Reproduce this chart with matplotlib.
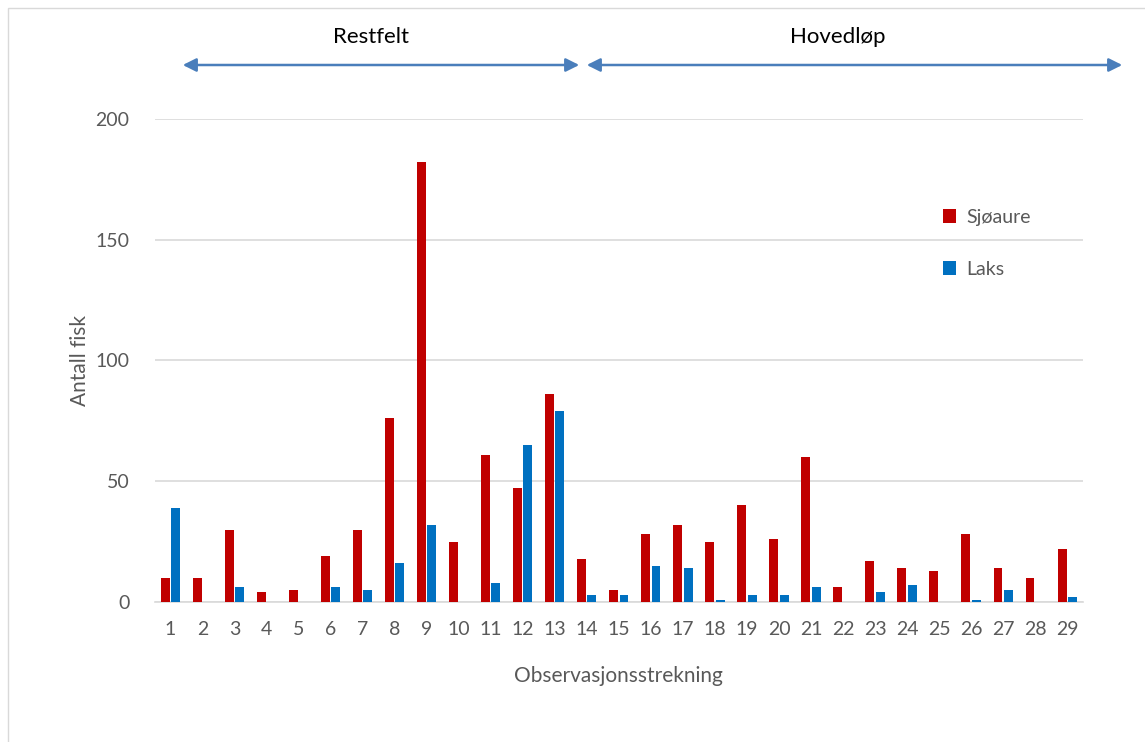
import matplotlib
matplotlib.use("Agg")
import matplotlib.pyplot as plt
import numpy as np
from matplotlib.patches import FancyArrowPatch, Rectangle

# strekninger og antall fisk
strekning = [str(i) for i in range(1, 30)]
sjoaure = [10, 10, 30, 4, 5, 19, 30, 76, 182, 25, 61, 47, 86, 18, 5, 28, 32, 25, 40, 26, 60, 6, 17, 14, 13, 28, 14, 10, 22]
laks = [39, 0, 6, 0, 0, 6, 5, 16, 32, 0, 8, 65, 79, 3, 3, 15, 14, 1, 3, 3, 6, 0, 4, 7, 0, 1, 5, 0, 2]

plt.rcParams['font.family'] = ['Lato', 'DejaVu Sans']
grey = '#595959'

fig = plt.figure(figsize=(11.45, 7.42), dpi=100)
ax = fig.add_axes([0.135, 0.1887, 0.811, 0.651])

x = np.arange(len(strekning))
w = 0.28
ax.bar(x - 0.16, sjoaure, w, color='#c00000', label='Sjøaure', zorder=3)
ax.bar(x + 0.16, laks, w, color='#0070c0', label='Laks', zorder=3)

ax.set_xlim(-0.5, len(strekning) - 0.5)
ax.set_ylim(0, 200)
ax.set_yticks([0, 50, 100, 150, 200])
ax.set_xticks(x)
ax.set_xticklabels(strekning)
ax.yaxis.grid(True, color='#d9d9d9', linewidth=1.2, zorder=0)
for s in ['top', 'right', 'left']:
    ax.spines[s].set_visible(False)
ax.spines['bottom'].set_color('#d9d9d9')
ax.spines['bottom'].set_linewidth(1.2)
ax.tick_params(length=0, labelsize=14, colors=grey, pad=14)
ax.tick_params(axis='y', pad=18)
ax.set_xlabel('Observasjonsstrekning', fontsize=15, color=grey, labelpad=20)
ax.set_ylabel('Antall fisk', fontsize=15, color=grey, labelpad=4)

ax.legend(loc='upper left', bbox_to_anchor=(0.83, 0.85), frameon=False, fontsize=14,
          labelspacing=1.8, handlelength=0.7, handleheight=0.7, handletextpad=0.5,
          labelcolor=grey)

# piler og tekst over diagrammet
pil_farge = '#4a7ebb'
y_pil = 1 - 65/742
for x0, x1 in [(180/1145, 582/1145), (584/1145, 1125/1145)]:
    a = FancyArrowPatch((x0, y_pil), (x1, y_pil), transform=fig.transFigure,
                        arrowstyle='<|-|>', mutation_scale=20, color=pil_farge, linewidth=1.8)
    fig.add_artist(a)
fig.text(371/1145, 1 - 37/742, 'Restfelt', ha='center', va='center', fontsize=16, color='black')
fig.text(838/1145, 1 - 37/742, 'Hovedløp', ha='center', va='center', fontsize=16, color='black')

# ramme rundt figuren
fig.add_artist(Rectangle((8/1145, -0.01), 1.0, 1 - 8/742 + 0.01, transform=fig.transFigure,
                         fill=False, edgecolor='#d9d9d9', linewidth=1))

fig.savefig('out.png', dpi=100)
